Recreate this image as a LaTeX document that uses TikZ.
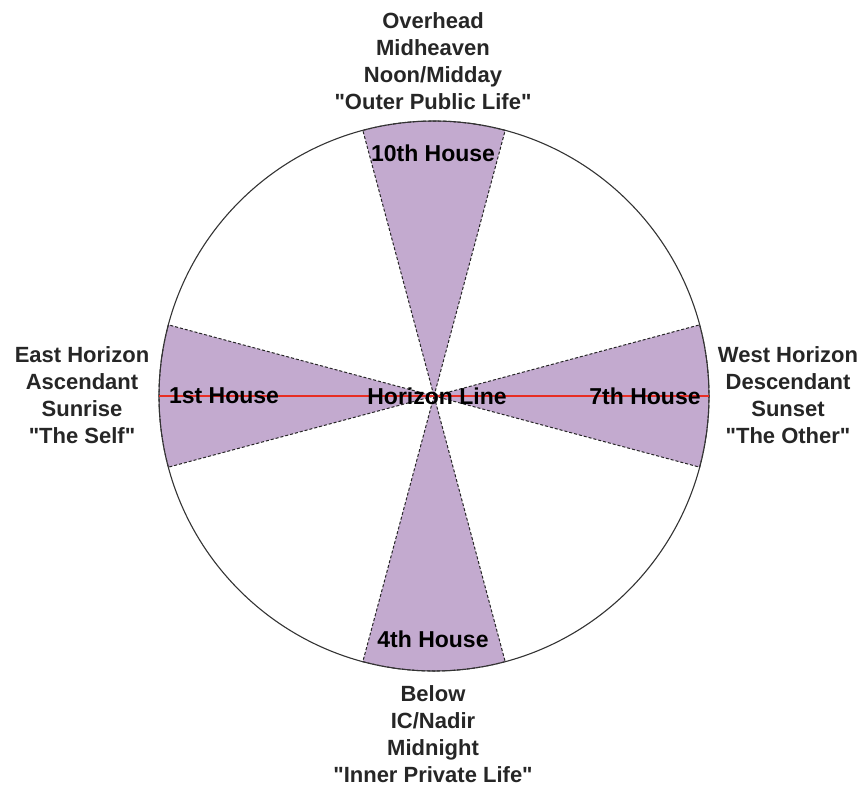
\documentclass[tikz,border=0pt]{standalone}
\usepackage{fontspec}
\setmainfont{Liberation Sans}[Ligatures=TeXOff]
\definecolor{lav}{RGB}{195,170,207}
\definecolor{hred}{RGB}{232,45,35}
\begin{document}
\begin{tikzpicture}[x=1pt,y=1pt,
  lbl/.style={font=\bfseries\fontsize{22}{27}\selectfont, align=center, text=black!85, inner sep=0},
  house/.style={font=\bfseries\fontsize{23}{27}\selectfont, text=black, inner sep=0},
  sector/.style={fill=lav, draw=black!85, dash pattern=on 3pt off 2pt, line width=1pt},
  rim/.style={draw=black!80, line width=1.1pt},
  horizon/.style={draw=hred, line width=1.6pt}]
\useasboundingbox (0,0) rectangle (866,-789);
\coordinate (C) at (434,-396);
\foreach \a in {0,90,180,270}{
  \path[sector] (C) -- ++(\a-15:275) arc[start angle=\a-15, end angle=\a+15, radius=275] -- cycle;
}
\draw[rim] (C) circle[radius=275];
\path (C) ++(180:275) coordinate (Wpt);
\path (C) ++(0:275) coordinate (Ept);
\draw[horizon] (Wpt) -- (Ept);
\node[house] (h10) at (433,-153) {10th House};
\node[house] (h1) at (224,-396) {1st House};
\node[house] (h7) at (645,-396) {7th House};
\node[house] (h4) at (433,-639) {4th House};
\node[house] (hl) at (437,-396) {Horizon Line};
\node[lbl] (top) at (433,-61) {Overhead\\Midheaven\\Noon/Midday\\"Outer Public Life"};
\node[lbl] (left) at (82,-395) {East Horizon\\Ascendant\\Sunrise\\"The Self"};
\node[lbl] (right) at (788,-395) {West Horizon\\Descendant\\Sunset\\"The Other"};
\node[lbl] (bottom) at (433,-734) {Below\\IC/Nadir\\Midnight\\"Inner Private Life"};
\end{tikzpicture}
\end{document}
